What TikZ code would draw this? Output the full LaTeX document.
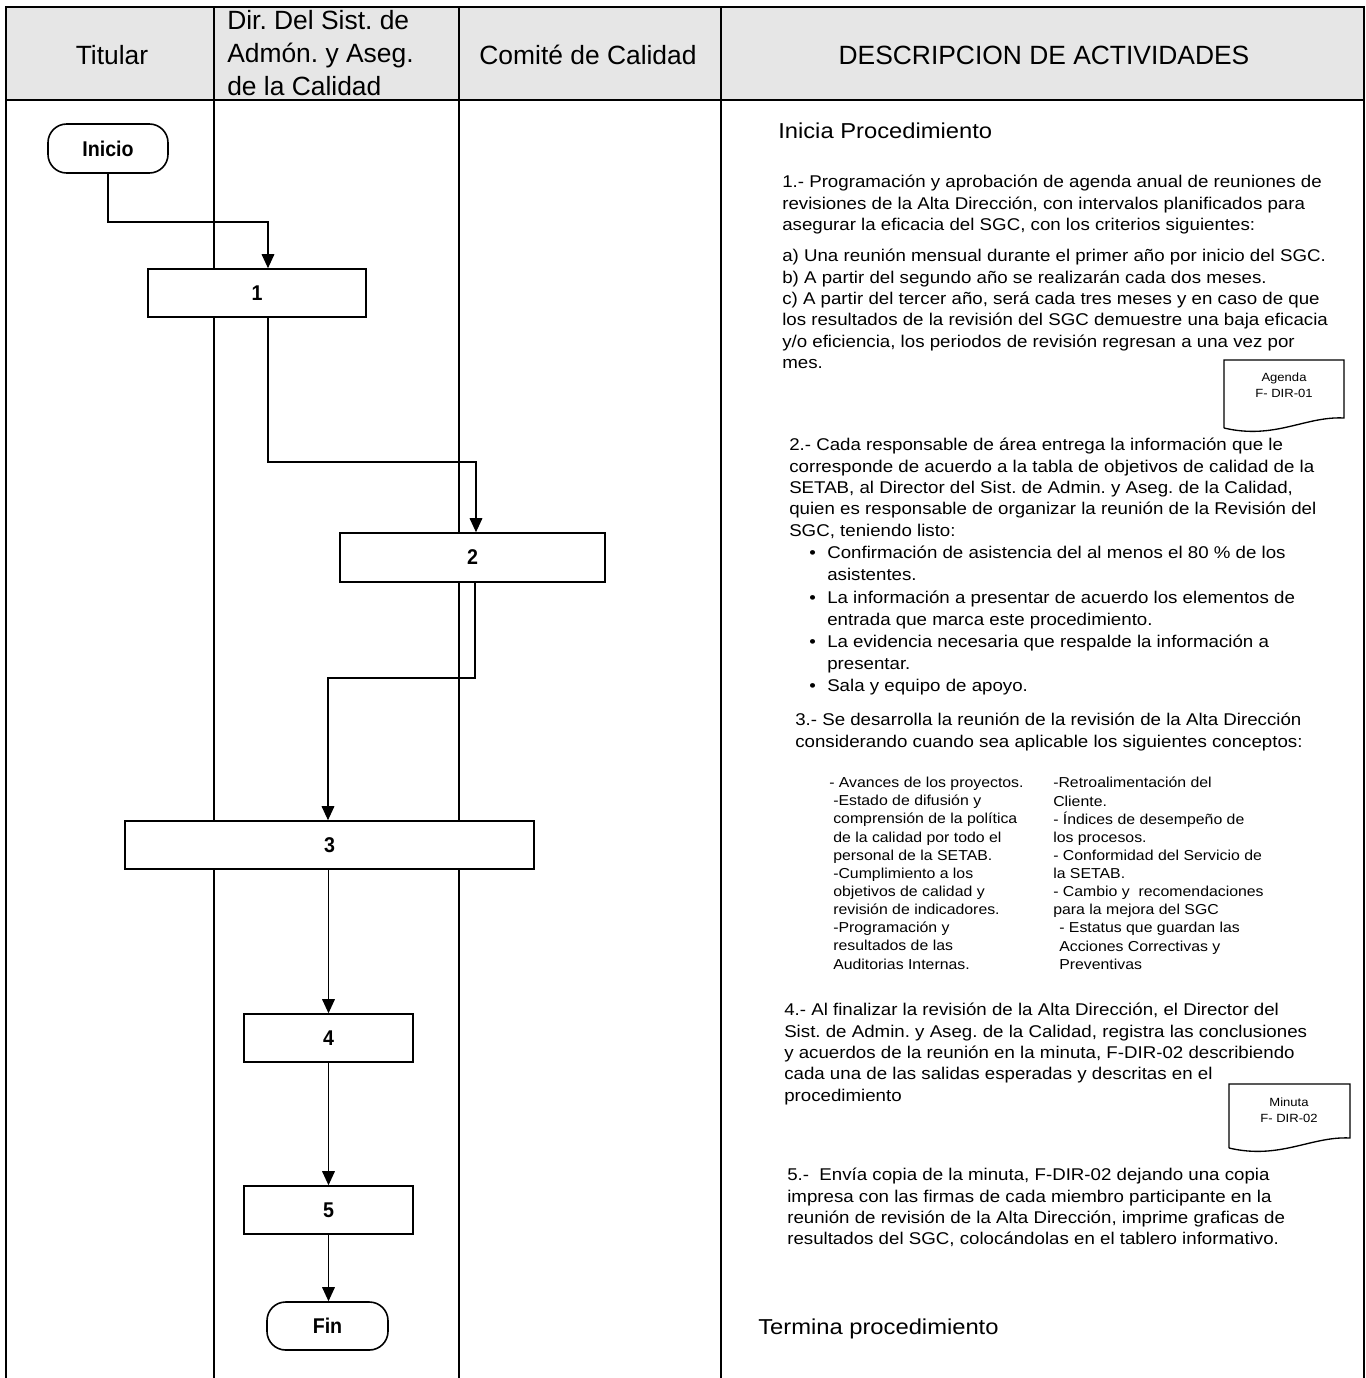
\documentclass[tikz,border=0pt]{standalone}
\usepackage{fontspec}
\setmainfont{Liberation Sans}[FakeStretch=1.1]
\newfontfamily\hdrfamily{Liberation Sans}
\newfontfamily\lblfamily{Liberation Sans}[FakeStretch=0.92]
\usetikzlibrary{arrows.meta}
\definecolor{hdrgray}{HTML}{E6E6E6}
\newcommand\bodyfs{\fontsize{12.75pt}{16pt}\selectfont}
\newcommand\bulfs{\fontsize{12.75pt}{16.6pt}\selectfont}
\newcommand\colfs{\fontsize{10.8pt}{13.6pt}\selectfont}
\newcommand\hdrfs{\hdrfamily\fontsize{19.8pt}{24.75pt}\selectfont}
\newcommand\bigfs{\fontsize{16.2pt}{20pt}\selectfont}
\newcommand\docfs{\fontsize{8.9pt}{12pt}\selectfont}
\newcommand\lblfs{\lblfamily\fontsize{16pt}{18pt}\selectfont\bfseries}
\newcommand\bul{\llap{\textbullet\hspace{8.5pt}}}
\frenchspacing
\tikzset{
  frame/.style={line width=1.5pt},
  proc/.style={draw, line width=1.2pt, inner sep=0pt, font=\lblfs, fill=white},
  term/.style={proc, rounded corners=14pt},
  conn/.style={line width=0.9pt, -{Triangle[length=10.5pt,width=9.5pt]}},
  hdr/.style={font=\hdrfs, inner sep=0pt},
  para/.style={anchor=north west, align=left, inner sep=0pt, font=\bodyfs},
  cols/.style={anchor=north west, align=left, inner sep=0pt, font=\colfs},
  doclbl/.style={align=center, inner sep=0pt, font=\docfs},
  docshape/.style={draw, line width=1pt, fill=white}
}
\begin{document}
\begin{tikzpicture}[x=0.75pt, y=-0.75pt]
\useasboundingbox (0,0) rectangle (1366,1378);
% header
\fill[hdrgray] (6,7) rectangle (1364,100);
\draw[frame] (6,7) rectangle (1364,100);
\draw[frame] (6,100) -- (6,1378);
\draw[frame] (1364,100) -- (1364,1378);
\draw[frame] (214,7) -- (214,1378);
\draw[frame] (459,7) -- (459,1378);
\draw[frame] (721,7) -- (721,1378);
\node[hdr] (h1) at (112,55) {Titular};
\node[hdr, anchor=west, align=left] (h2) at (227,53) {Dir. Del Sist. de\\Admón. y Aseg.\\de la Calidad};
\node[hdr] (h3) at (588,55) {Comité de Calidad};
\node[hdr] (h4) at (1044,55) {DESCRIPCION DE ACTIVIDADES};
% flow nodes
\node[term, minimum width=90pt, minimum height=36.75pt] (ini) at (108,148.5) {Inicio};
\node[proc, minimum width=163.5pt, minimum height=36pt] (b1) at (257,293) {1};
\node[proc, minimum width=198.75pt, minimum height=36.75pt] (b2) at (472.5,557.5) {2};
\node[proc, minimum width=306.75pt, minimum height=36pt] (b3) at (329.5,845) {3};
\node[proc, minimum width=126.75pt, minimum height=36pt] (b4) at (328.5,1038) {4};
\node[proc, minimum width=126.75pt, minimum height=36pt] (b5) at (328.5,1210) {5};
\node[term, minimum width=90.75pt, minimum height=36pt] (fin) at (327.5,1326) {Fin};
% connectors
\coordinate (c1a) at (268,222);
\draw[conn] (ini.south) |- (c1a) -- (c1a |- b1.north);
\coordinate (c2a) at (268,462);
\coordinate (c2b) at (476,462);
\draw[conn] (b1.south -| c2a) -- (c2a) -- (c2b) -- (c2b |- b2.north);
\coordinate (c3a) at (475,678);
\coordinate (c3b) at (328,678);
\draw[conn] (b2.south -| c3a) -- (c3a) -- (c3b) -- (c3b |- b3.north);
\draw[conn] (b3.south -| b4.north) -- (b4.north);
\draw[conn] (b4.south) -- (b5.north);
\draw[conn] (b5.south) -- (b5.south |- fin.north);
% description texts
\node[para, font=\bigfs] (tini) at (778,123) {Inicia Procedimiento};
\node[para] (t1) at (782,175) {1.- Programación y aprobación de agenda anual de reuniones de\\revisiones de la Alta Dirección, con intervalos planificados para\\asegurar la eficacia del SGC, con los criterios siguientes:};
\node[para] (t1b) at (782,249) {a) Una reunión mensual durante el primer año por inicio del SGC.\\b) A partir del segundo año se realizarán cada dos meses.\\c) A partir del tercer año, será cada tres meses y en caso de que\\los resultados de la revisión del SGC demuestre una baja eficacia\\y/o eficiencia, los periodos de revisión regresan a una vez por\\mes.};
\draw[docshape] (1224,428) -- (1224,360) -- (1344,360) -- (1344,418) .. controls (1305,416) and (1275,440) .. (1224,428);
\node[doclbl] (agenda) at (1284,385) {Agenda\\F- DIR-01};
\node[para] (t2) at (789,438) {2.- Cada responsable de área entrega la información que le\\corresponde de acuerdo a la tabla de objetivos de calidad de la\\SETAB, al Director del Sist. de Admin. y Aseg. de la Calidad,\\quien es responsable de organizar la reunión  de la Revisión del\\SGC, teniendo listo:};
\node[para, font=\bulfs] (t2b) at (827,546) {\bul Confirmación de asistencia del al menos el 80 \% de los\\asistentes.\\\bul La información a presentar de acuerdo los elementos de\\entrada que marca este procedimiento.\\\bul La evidencia necesaria que respalde la información a\\presentar.\\\bul Sala y equipo de apoyo.};
\node[para] (t3) at (795,713) {3.- Se desarrolla la reunión de la revisión de la Alta Dirección\\considerando cuando sea aplicable los siguientes conceptos:};
\node[cols] (t3a) at (833,777) {\hspace*{-3pt}- Avances de los proyectos.\\-Estado de difusión y\\comprensión de la política\\de la calidad por todo el\\personal de la SETAB.\\-Cumplimiento a los\\objetivos de calidad y\\revisión de indicadores.\\-Programación y\\resultados de las\\Auditorias Internas.};
\node[cols] (t3b) at (1053,777) {-Retroalimentación del\\Cliente.\\- Índices de desempeño de\\los procesos.\\- Conformidad del Servicio de\\la SETAB.\\- Cambio y~ recomendaciones\\para la mejora del SGC\\\hspace*{4.5pt}- Estatus que guardan las\\\hspace*{4.5pt}Acciones Correctivas y\\\hspace*{4.5pt}Preventivas};
\node[para] (t4) at (784,1003) {4.- Al finalizar la revisión de la Alta Dirección, el Director del\\Sist. de Admin. y Aseg. de la Calidad, registra las conclusiones\\y acuerdos de la reunión en la minuta, F-DIR-02 describiendo\\cada una de las salidas esperadas y descritas en el\\procedimiento};
\draw[docshape] (1229,1148) -- (1229,1084) -- (1350,1084) -- (1350,1138) .. controls (1311,1136) and (1280,1160) .. (1229,1148);
\node[doclbl] (minuta) at (1289,1110) {Minuta\\F- DIR-02};
\node[para] (t5) at (787,1168) {5.-~ Envía copia de la minuta, F-DIR-02 dejando una copia\\impresa con las firmas de cada miembro participante en la\\reunión de revisión de la Alta Dirección, imprime graficas de\\resultados del SGC, colocándolas en el tablero informativo.};
\node[para, font=\bigfs] (tfin) at (758,1319) {Termina procedimiento};
\end{tikzpicture}
\end{document}
